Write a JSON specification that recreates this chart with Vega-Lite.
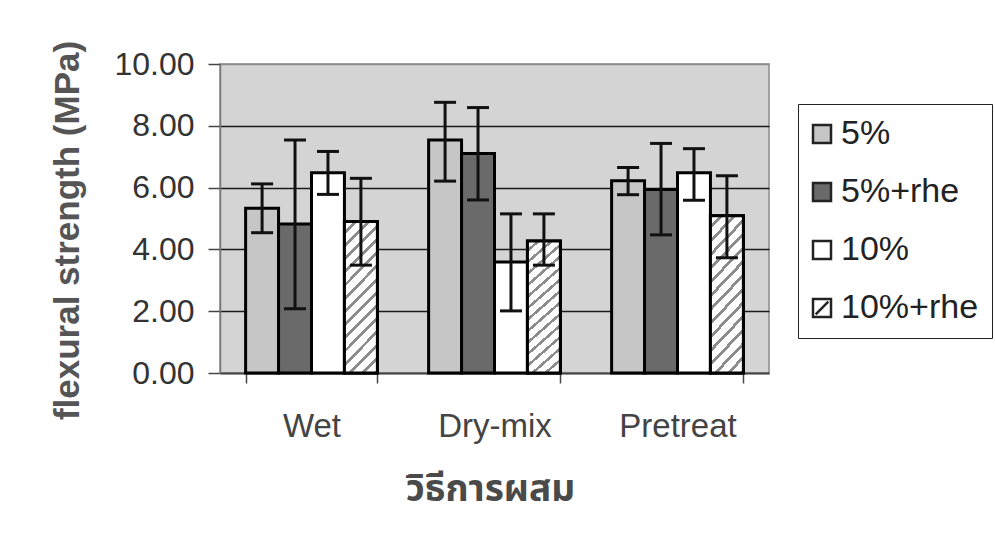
{
  "$schema": "https://vega.github.io/schema/vega-lite/v6.json",
  "width": 549,
  "height": 309,
  "autosize": {"type": "none"},
  "padding": {"left": 220, "top": 64, "right": 226, "bottom": 172},
  "background": "white",
  "config": {
    "view": {"fill": "#d4d4d4", "stroke": "#8a8a8a", "strokeWidth": 1.5},
    "font": "Liberation Sans"
  },
  "data": {
    "values": [
      {"method": "Wet", "series": "5%", "mean": 5.33, "lo": 4.54, "hi": 6.12},
      {"method": "Wet", "series": "5%+rhe", "mean": 4.82, "lo": 2.08, "hi": 7.54},
      {"method": "Wet", "series": "10%", "mean": 6.48, "lo": 5.78, "hi": 7.17},
      {"method": "Wet", "series": "10%+rhe", "mean": 4.90, "lo": 3.49, "hi": 6.30},
      {"method": "Dry-mix", "series": "5%", "mean": 7.54, "lo": 6.21, "hi": 8.76},
      {"method": "Dry-mix", "series": "5%+rhe", "mean": 7.10, "lo": 5.60, "hi": 8.59},
      {"method": "Dry-mix", "series": "10%", "mean": 3.59, "lo": 2.01, "hi": 5.15},
      {"method": "Dry-mix", "series": "10%+rhe", "mean": 4.27, "lo": 3.49, "hi": 5.15},
      {"method": "Pretreat", "series": "5%", "mean": 6.22, "lo": 5.77, "hi": 6.65},
      {"method": "Pretreat", "series": "5%+rhe", "mean": 5.94, "lo": 4.47, "hi": 7.43},
      {"method": "Pretreat", "series": "10%", "mean": 6.48, "lo": 5.59, "hi": 7.26},
      {"method": "Pretreat", "series": "10%+rhe", "mean": 5.09, "lo": 3.73, "hi": 6.38}
    ]
  },
  "encoding": {
    "x": {
      "field": "method",
      "type": "nominal",
      "sort": ["Wet", "Dry-mix", "Pretreat"],
      "scale": {"paddingInner": 0.28, "paddingOuter": 0.14},
      "axis": {
        "title": "วิธีการผสม",
        "titleFont": "Noto Sans Thai, Loma, Garuda, Tlwg Typo, Norasi, sans-serif",
        "titleFontSize": 37,
        "titleFontWeight": "bold",
        "titleColor": "#4a4a4a",
        "titlePadding": 28,
        "titleX": 270,
        "labelAngle": 0,
        "labelFontSize": 33,
        "labelColor": "#444444",
        "labelPadding": 27,
        "tickBand": "extent",
        "tickSize": 10,
        "tickColor": "#444444",
        "tickWidth": 1.5,
        "domainColor": "#444444",
        "domainWidth": 2
      }
    },
    "xOffset": {
      "field": "series",
      "type": "nominal",
      "sort": ["5%", "5%+rhe", "10%", "10%+rhe"],
      "scale": {"paddingInner": 0, "paddingOuter": 0}
    }
  },
  "layer": [
    {
      "mark": {"type": "bar", "stroke": "black", "strokeWidth": 3},
      "encoding": {
        "y": {
          "field": "mean",
          "type": "quantitative",
          "scale": {"domain": [0, 10], "nice": false},
          "axis": {
            "title": "flexural strength (MPa)",
            "titleFontSize": 35,
            "titleFontWeight": "bold",
            "titleColor": "#555555",
            "titlePadding": 28,
            "titleY": 166,
            "values": [0, 2, 4, 6, 8, 10],
            "format": ".2f",
            "labelFontSize": 32,
            "labelColor": "#333333",
            "labelPadding": 14,
            "tickSize": 12,
            "tickColor": "#444444",
            "tickWidth": 1.5,
            "domainColor": "#777777",
            "domainWidth": 1.5,
            "grid": true,
            "gridColor": {"condition": {"test": "datum.value === 10 || datum.value === 0", "value": "#8a8a8a"}, "value": "#1a1a1a"},
            "gridWidth": 1.5
          }
        },
        "fill": {
          "field": "series",
          "type": "nominal",
          "sort": ["5%", "5%+rhe", "10%", "10%+rhe"],
          "scale": {
            "domain": ["5%", "5%+rhe", "10%", "10%+rhe"],
            "range": ["#c6c6c6", "#6a6a6a", "#ffffff", "#ffffff"]
          },
          "legend": {
            "orient": "none",
            "legendX": 578,
            "legendY": 40,
            "title": null,
            "strokeColor": "#222222",
            "fillColor": "white",
            "padding": 13,
            "symbolType": "square",
            "symbolSize": 324,
            "symbolOffset": -6,
            "symbolStrokeColor": "#222222",
            "symbolStrokeWidth": 2.5,
            "labelFontSize": 34,
            "labelColor": "#222222",
            "labelOffset": 2,
            "labelLimit": 300,
            "rowPadding": 24,
            "encode": {
              "symbols": {
                "update": {
                  "stroke": {"value": "#222222"},
                  "strokeWidth": {"value": 2.5},
                  "shape": [
                    {"test": "datum.value === '10%+rhe'", "value": "M-1,-1H1V1H-1Z M-0.7,0.7L0.7,-0.7"},
                    {"value": "square"}
                  ]
                }
              }
            }
          }
        }
      }
    },
    {
      "transform": [{"filter": "datum.series === '10%+rhe'"}],
      "mark": {
        "type": "bar",
        "stroke": "black",
        "strokeWidth": 3,
        "fill": {
          "gradient": "linear",
          "x1": 0, "y1": 0, "x2": 0.256, "y2": 1.164,
          "stops": [
            {"offset": 0, "color": "#ffffff"}, {"offset": 0.05, "color": "#ffffff"}, {"offset": 0.05, "color": "#8c8c8c"}, {"offset": 0.0714, "color": "#8c8c8c"},
            {"offset": 0.0714, "color": "#ffffff"}, {"offset": 0.1214, "color": "#ffffff"}, {"offset": 0.1214, "color": "#8c8c8c"}, {"offset": 0.1429, "color": "#8c8c8c"},
            {"offset": 0.1429, "color": "#ffffff"}, {"offset": 0.1929, "color": "#ffffff"}, {"offset": 0.1929, "color": "#8c8c8c"}, {"offset": 0.2143, "color": "#8c8c8c"},
            {"offset": 0.2143, "color": "#ffffff"}, {"offset": 0.2643, "color": "#ffffff"}, {"offset": 0.2643, "color": "#8c8c8c"}, {"offset": 0.2857, "color": "#8c8c8c"},
            {"offset": 0.2857, "color": "#ffffff"}, {"offset": 0.3357, "color": "#ffffff"}, {"offset": 0.3357, "color": "#8c8c8c"}, {"offset": 0.3571, "color": "#8c8c8c"},
            {"offset": 0.3571, "color": "#ffffff"}, {"offset": 0.4071, "color": "#ffffff"}, {"offset": 0.4071, "color": "#8c8c8c"}, {"offset": 0.4286, "color": "#8c8c8c"},
            {"offset": 0.4286, "color": "#ffffff"}, {"offset": 0.4786, "color": "#ffffff"}, {"offset": 0.4786, "color": "#8c8c8c"}, {"offset": 0.5, "color": "#8c8c8c"},
            {"offset": 0.5, "color": "#ffffff"}, {"offset": 0.55, "color": "#ffffff"}, {"offset": 0.55, "color": "#8c8c8c"}, {"offset": 0.5714, "color": "#8c8c8c"},
            {"offset": 0.5714, "color": "#ffffff"}, {"offset": 0.6214, "color": "#ffffff"}, {"offset": 0.6214, "color": "#8c8c8c"}, {"offset": 0.6429, "color": "#8c8c8c"},
            {"offset": 0.6429, "color": "#ffffff"}, {"offset": 0.6929, "color": "#ffffff"}, {"offset": 0.6929, "color": "#8c8c8c"}, {"offset": 0.7143, "color": "#8c8c8c"},
            {"offset": 0.7143, "color": "#ffffff"}, {"offset": 0.7643, "color": "#ffffff"}, {"offset": 0.7643, "color": "#8c8c8c"}, {"offset": 0.7857, "color": "#8c8c8c"},
            {"offset": 0.7857, "color": "#ffffff"}, {"offset": 0.8357, "color": "#ffffff"}, {"offset": 0.8357, "color": "#8c8c8c"}, {"offset": 0.8571, "color": "#8c8c8c"},
            {"offset": 0.8571, "color": "#ffffff"}, {"offset": 0.9071, "color": "#ffffff"}, {"offset": 0.9071, "color": "#8c8c8c"}, {"offset": 0.9286, "color": "#8c8c8c"},
            {"offset": 0.9286, "color": "#ffffff"}, {"offset": 0.9786, "color": "#ffffff"}, {"offset": 0.9786, "color": "#8c8c8c"}, {"offset": 1, "color": "#8c8c8c"}
          ]
        }
      },
      "encoding": {
        "y": {"field": "mean", "type": "quantitative", "title": "flexural strength (MPa)"}
      }
    },
    {
      "mark": {"type": "rule", "strokeWidth": 3, "color": "#111111"},
      "encoding": {
        "y": {"field": "lo", "type": "quantitative", "title": "flexural strength (MPa)"},
        "y2": {"field": "hi"}
      }
    },
    {
      "mark": {"type": "tick", "thickness": 3, "size": 22, "color": "#111111", "opacity": 1},
      "encoding": {
        "y": {"field": "lo", "type": "quantitative", "title": "flexural strength (MPa)"}
      }
    },
    {
      "mark": {"type": "tick", "thickness": 3, "size": 22, "color": "#111111", "opacity": 1},
      "encoding": {
        "y": {"field": "hi", "type": "quantitative", "title": "flexural strength (MPa)"}
      }
    }
  ]
}
